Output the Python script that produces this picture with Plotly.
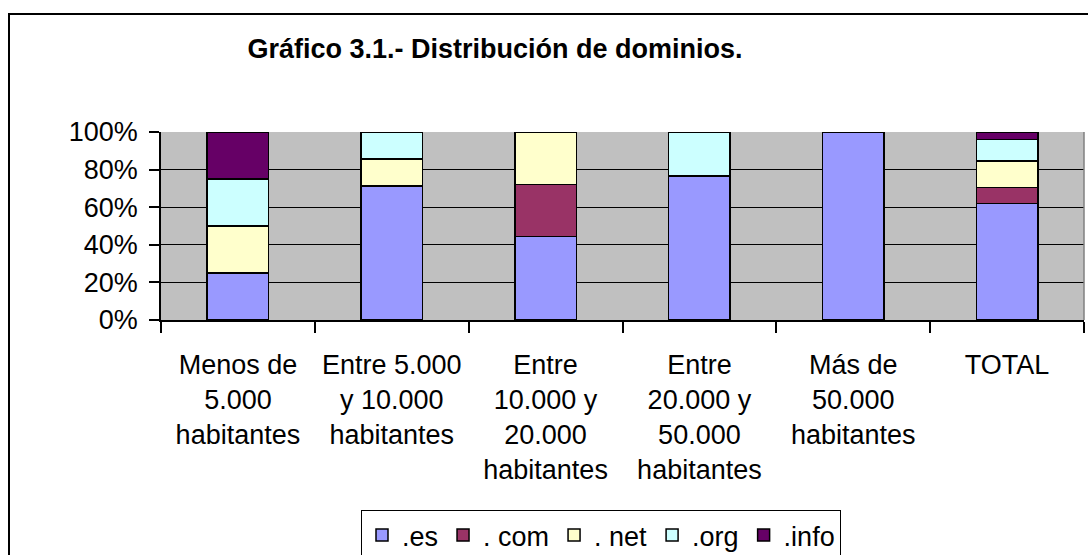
import plotly.graph_objects as go

categories = [
    "Menos de<br>5.000<br>habitantes",
    "Entre 5.000<br>y 10.000<br>habitantes",
    "Entre<br>10.000 y<br>20.000<br>habitantes",
    "Entre<br>20.000 y<br>50.000<br>habitantes",
    "Más de<br>50.000<br>habitantes",
    "TOTAL",
]
series_names = [".es", ". com", ". net", ".org", ".info"]
es_vals = [25.0, 71.4, 44.4, 76.5, 100.0, 62.0]
com_vals = [0.0, 0.0, 27.8, 0.0, 0.0, 8.5]
net_vals = [25.0, 14.3, 27.8, 0.0, 0.0, 14.0]
org_vals = [25.0, 14.3, 0.0, 23.5, 0.0, 11.5]
info_vals = [25.0, 0.0, 0.0, 0.0, 0.0, 4.0]
y_ticks = [0, 20, 40, 60, 80, 100]
y_tick_labels = ["0%", "20%", "40%", "60%", "80%", "100%"]
title_text = "Gráfico 3.1.- Distribución de dominios."

colors = ["#9999FF", "#993366", "#FFFFCC", "#CCFFFF", "#660066"]
values = [es_vals, com_vals, net_vals, org_vals, info_vals]

W, H = 1088, 555
L, R, T, B = 161, 4, 132, 235
pw, ph = W - L - R, H - T - B
FONT = "Liberation Sans, Arial, sans-serif"


def px_x(px):
    return (px - L) / pw


def px_y(py):
    return (H - B - py) / ph


fig = go.Figure()
for name, vals, col in zip(series_names, values, colors):
    fig.add_trace(go.Bar(
        x=categories, y=vals, name=name,
        marker=dict(color=col, line=dict(color="black", width=1.5)),
    ))

fig.update_layout(
    width=W, height=H,
    barmode="stack", bargap=0.6,
    paper_bgcolor="white", plot_bgcolor="#C0C0C0",
    margin=dict(l=L, r=R, t=T, b=B, autoexpand=False),
    font=dict(family=FONT, size=27, color="black"),
    title=dict(text="<b>" + title_text + "</b>", xref="container", yref="container",
               x=495 / W, y=1 - 49 / H, xanchor="center", yanchor="middle",
               font=dict(family=FONT, size=27, color="black")),
    legend=dict(orientation="h", x=px_x(601), y=px_y(510), xanchor="center", yanchor="top",
                bgcolor="white", bordercolor="black", borderwidth=1,
                font=dict(family=FONT, size=27, color="black"),
                itemwidth=30, traceorder="normal"),
    showlegend=True,
)
fig.update_xaxes(
    type="category", showgrid=False, showline=True, linecolor="black", linewidth=1.5,
    ticks="outside", tickson="boundaries", ticklen=11, tickcolor="black", tickwidth=1.5,
    tickfont=dict(family=FONT, size=27, color="black"), tickangle=0,
    ticklabelstandoff=20,
)
fig.update_yaxes(
    range=[0, 100], tickmode="array", tickvals=y_ticks, ticktext=y_tick_labels,
    showgrid=True, gridcolor="black", gridwidth=1,
    showline=True, linecolor="black", linewidth=1.5, zeroline=False,
    ticks="outside", ticklen=10, tickcolor="black", tickwidth=1.5,
    tickfont=dict(family=FONT, size=27, color="black"), ticklabelstandoff=6,
)
# plot area right border (gray) and chart frame
fig.add_shape(type="line", xref="paper", yref="paper", x0=1, x1=1, y0=0, y1=1,
              line=dict(color="#808080", width=1.5), layer="above")
fig.add_shape(type="rect", xref="paper", yref="paper",
              x0=px_x(9), x1=px_x(1092), y0=px_y(565), y1=px_y(14),
              line=dict(color="black", width=2), layer="below")

fig.write_html("out.html", config={"displayModeBar": False},
               post_script="document.body.style.margin='0';document.body.style.overflow='hidden';")
